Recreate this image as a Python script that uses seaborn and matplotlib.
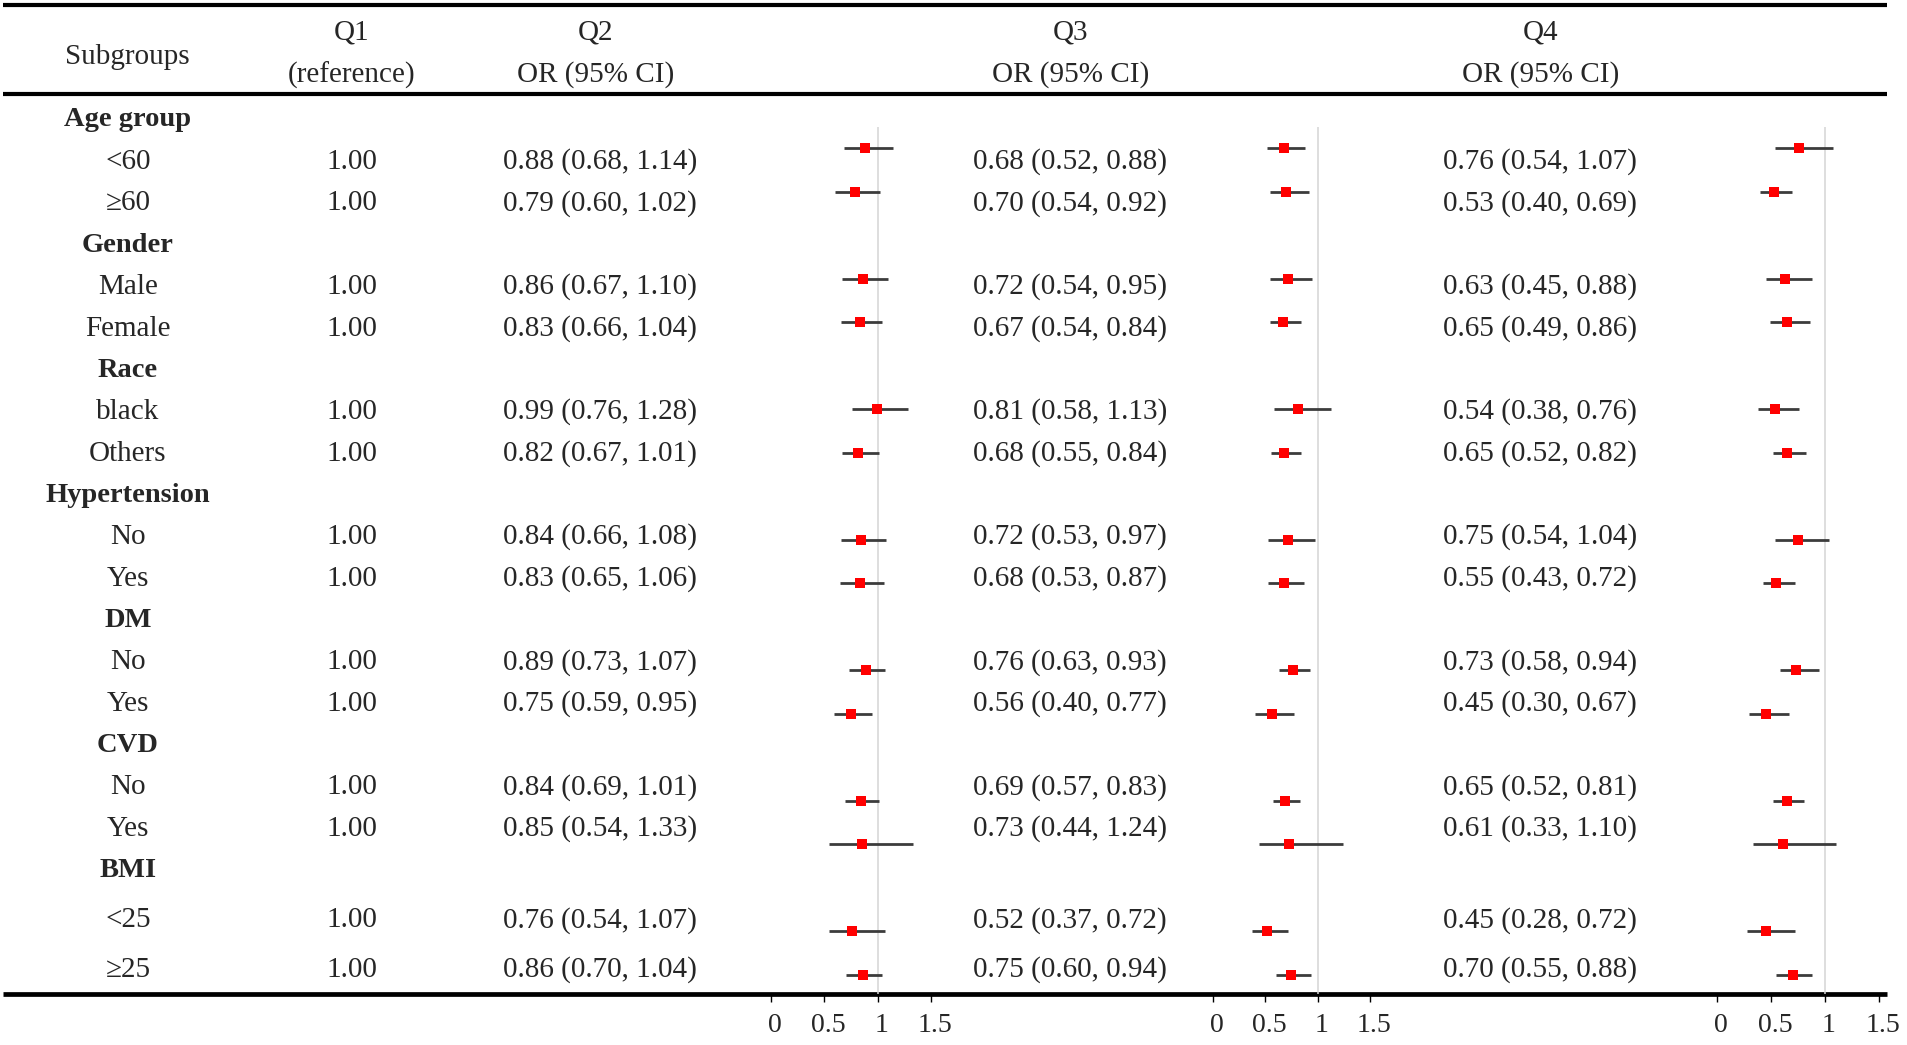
import numpy as np
import pandas as pd
import matplotlib
matplotlib.use("Agg")
import matplotlib.pyplot as plt
import matplotlib.transforms as mtrans
import seaborn as sns

# ---------------- data ----------------
groups = ["Age group", "Gender", "Race", "Hypertension", "DM", "CVD", "BMI"]
levels = [["<60", "≥60"], ["Male", "Female"], ["black", "Others"],
          ["No", "Yes"], ["No", "Yes"], ["No", "Yes"], ["<25", "≥25"]]
q1_ref = "1.00"

q2_or = [0.88, 0.79, 0.86, 0.83, 0.99, 0.82, 0.84, 0.83, 0.89, 0.75, 0.84, 0.85, 0.76, 0.86]
q2_lo = [0.68, 0.60, 0.67, 0.66, 0.76, 0.67, 0.66, 0.65, 0.73, 0.59, 0.69, 0.54, 0.54, 0.70]
q2_hi = [1.14, 1.02, 1.10, 1.04, 1.28, 1.01, 1.08, 1.06, 1.07, 0.95, 1.01, 1.33, 1.07, 1.04]

q3_or = [0.68, 0.70, 0.72, 0.67, 0.81, 0.68, 0.72, 0.68, 0.76, 0.56, 0.69, 0.73, 0.52, 0.75]
q3_lo = [0.52, 0.54, 0.54, 0.54, 0.58, 0.55, 0.53, 0.53, 0.63, 0.40, 0.57, 0.44, 0.37, 0.60]
q3_hi = [0.88, 0.92, 0.95, 0.84, 1.13, 0.84, 0.97, 0.87, 0.93, 0.77, 0.83, 1.24, 0.72, 0.94]

q4_or = [0.76, 0.53, 0.63, 0.65, 0.54, 0.65, 0.75, 0.55, 0.73, 0.45, 0.65, 0.61, 0.45, 0.70]
q4_lo = [0.54, 0.40, 0.45, 0.49, 0.38, 0.52, 0.54, 0.43, 0.58, 0.30, 0.52, 0.33, 0.28, 0.55]
q4_hi = [1.07, 0.69, 0.88, 0.86, 0.76, 0.82, 1.04, 0.72, 0.94, 0.67, 0.81, 1.10, 0.72, 0.88]

tick_vals = [0, 0.5, 1, 1.5]
tick_labels = ["0", "0.5", "1", "1.5"]

# ---------------- layout ----------------
W, H = 1908, 1045
sns.set_theme(style="white")
plt.rcParams["font.family"] = ["Liberation Serif", "DejaVu Serif"]
FS = 21

fig = plt.figure(figsize=(W / 100, H / 100), dpi=100)
fig.patch.set_facecolor("white")
ax = fig.add_axes([0, 0, 1, 1])
ax.set_xlim(0, W)
ax.set_ylim(H, 0)
ax.axis("off")

# build row table
rows = []  # (label, is_header, data_index)
k = 0
for g, lv in zip(groups, levels):
    rows.append((g, True, None))
    for l in lv:
        rows.append((l, False, k))
        k += 1


def text_y(i):
    return 120 + 41.7 * i + 8 * max(0, i - 18)


# header
ax.text(127, 57, "Subgroups", ha="center", va="center", fontsize=FS)
ax.text(352, 33, "Q1", ha="center", va="center", fontsize=FS)
ax.text(352, 75, "(reference)", ha="center", va="center", fontsize=FS)
head_x = [596, 1071, 1541]
val_x = [600, 1070, 1540]
for hx, q in zip(head_x, ["Q2", "Q3", "Q4"]):
    ax.text(hx, 33, q, ha="center", va="center", fontsize=FS)
    ax.text(hx, 75, "OR (95% CI)", ha="center", va="center", fontsize=FS)

# horizontal rules
for yy, lw in [(5, 3.0), (94, 3.0), (994, 3.4)]:
    ax.plot([3, 1887], [yy, yy], color="black", lw=lw, solid_capstyle="butt", zorder=5)

series = [(q2_or, q2_lo, q2_hi), (q3_or, q3_lo, q3_hi), (q4_or, q4_lo, q4_hi)]

for i, (lab, hdr, di) in enumerate(rows):
    y = text_y(i)
    if hdr:
        ax.text(128, y, lab, ha="center", va="center", fontsize=FS - 0.5, fontweight="bold")
    else:
        ax.text(128, y, lab, ha="center", va="center", fontsize=FS)
        ax.text(352, y, q1_ref, ha="center", va="center", fontsize=FS)
        for vx, (o, lo, hi) in zip(val_x, series):
            ax.text(vx, y, f"{o[di]:.2f} ({lo[di]:.2f}, {hi[di]:.2f})",
                    ha="center", va="center", fontsize=FS)

# ---------------- forest panels ----------------
forest_px = [(771, 931), (1213, 1370), (1717, 1879)]  # pixel of x=0 and x=1.5
XMIN, XMAX = -0.3, 1.6
TOP_PX, BOT_PX = 127, 994
ROW0_PX, ROW_STEP = 104.5, 43.5


def px_to_row(p):
    return (p - ROW0_PX) / ROW_STEP


slot = [i for i, r in enumerate(rows) if not r[1]]
shift = mtrans.ScaledTranslation(4 / 100, 0, fig.dpi_scale_trans)

for (x0, x15), (o, lo, hi) in zip(forest_px, series):
    s = (x15 - x0) / 1.5
    left = x0 + XMIN * s
    right = x0 + XMAX * s
    fax = fig.add_axes([left / W, 1 - BOT_PX / H, (right - left) / W, (BOT_PX - TOP_PX) / H])
    fax.set_facecolor("none")
    df = pd.DataFrame({"row": slot, "or": o, "lo": lo, "hi": hi})
    fax.axvline(1, color="#d4d4d4", lw=1.1, zorder=1)
    fax.hlines(df["row"], df["lo"], df["hi"], color="#3c3c3c", lw=2.0, zorder=2)
    sns.scatterplot(data=df, x="or", y="row", marker="s", color="#ff0000", s=46,
                    linewidth=0, legend=False, ax=fax, zorder=3)
    fax.set_xlim(XMIN, XMAX)
    fax.set_ylim(px_to_row(BOT_PX), px_to_row(TOP_PX))
    fax.set_xticks(tick_vals)
    fax.set_xticklabels(tick_labels)
    fax.set_yticks([])
    fax.set_xlabel("")
    fax.set_ylabel("")
    for sp in fax.spines.values():
        sp.set_visible(False)
    fax.tick_params(axis="x", direction="out", length=6, width=1.0, color="black",
                    labelsize=20, pad=8, bottom=True)
    for t in fax.get_xticklabels():
        t.set_transform(t.get_transform() + shift)
    fax.grid(False)

fig.savefig("out.png", dpi=100, facecolor="white")
